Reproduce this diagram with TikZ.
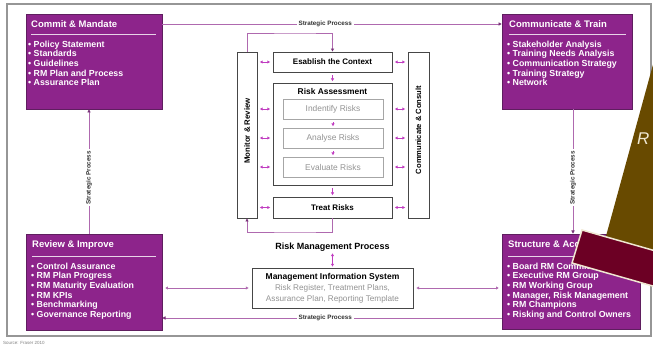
\documentclass[tikz,border=0pt]{standalone}
\usepackage{fontspec}
\setmainfont{Liberation Sans}
\usetikzlibrary{arrows.meta,calc}
\definecolor{boxpurple}{RGB}{141,36,139}
\definecolor{boxedge}{RGB}{95,30,95}
\definecolor{stratline}{RGB}{175,105,175}
\definecolor{stratdark}{RGB}{120,50,120}
\definecolor{magarrow}{RGB}{192,60,192}
\definecolor{darkedge}{RGB}{70,70,70}
\definecolor{framegray}{RGB}{150,150,150}
\definecolor{brownov}{RGB}{104,74,0}
\definecolor{redov}{RGB}{108,0,36}
\definecolor{creamov}{RGB}{240,232,210}
\begin{document}
\begin{tikzpicture}[x=1pt,y=-1pt,
  pbox/.style={draw=boxedge,fill=boxpurple,line width=0.6pt,inner sep=0pt},
  phead/.style={text=white,font=\bfseries\fontsize{9.5}{11}\selectfont,inner sep=0pt,anchor=west},
  plist/.style={text=white,font=\bfseries\fontsize{8.8}{9.7}\selectfont,inner sep=0pt,align=left,anchor=north west},
  hline/.style={draw=white!80!boxpurple,line width=0.8pt},
  cbox/.style={draw=darkedge,fill=white,line width=0.9pt,inner sep=0pt,font=\bfseries\fontsize{8}{10}\selectfont},
  gbox/.style={draw=gray!70,fill=white,line width=0.8pt,inner sep=0pt,text=gray!85,font=\fontsize{8.4}{10}\selectfont},
  strat/.style={draw=stratline,line width=0.9pt},
  endtip/.style={-{Triangle[length=3.2pt,width=3.2pt,color=stratdark]}},
  slabel/.style={fill=white,font=\bfseries\fontsize{6.3}{7}\selectfont,text=black!80,inner sep=2pt},
  dbl/.style={draw=magarrow,line width=0.9pt,{Triangle[length=2.6pt,width=2.8pt]}-{Triangle[length=2.6pt,width=2.8pt]},shorten <=2.5pt,shorten >=2.5pt},
  downtip/.style={draw=magarrow,line width=0.6pt,-{Triangle[length=2.6pt,width=3pt]},shorten <=3pt,shorten >=1.5pt},
  loopline/.style={draw=stratline,line width=0.9pt,-{Triangle[length=3pt,width=3pt,color=stratdark]}},
]
\useasboundingbox (0,0) rectangle (653,347);
\clip (0,0) rectangle (653,347);
\fill[white] (0,0) rectangle (653,347);

% frame
\draw[framegray,line width=1.4pt] (7,4) rectangle (651,336);
\node[anchor=west,inner sep=0pt,text=gray,font=\fontsize{4.5}{5}\selectfont] (src) at (3,343) {Source: Fraser 2010};

% coordinates for strategic lines
\coordinate (sTop) at (0,24);
\coordinate (sBot) at (0,318);
\coordinate (sLeft) at (89,0);
\coordinate (sRight) at (573,0);
\coordinate (fbT) at (300,33);
\coordinate (fbB) at (300,232);

% purple boxes
\node[pbox,minimum width=136pt,minimum height=95pt] (commit) at (94,61.5) {};
\node[phead] (commitH) at (31,24) {Commit \& Mandate};
\draw[hline] (31,34) -- (156,34);
\node[plist] (commitL) at (28,40.5) {• Policy Statement\\• Standards\\• Guidelines\\• RM Plan and Process\\• Assurance Plan};

\node[pbox,minimum width=130pt,minimum height=95pt] (train) at (567,61.5) {};
\node[phead] (trainH) at (509,24) {Communicate \& Train};
\draw[hline] (509,34) -- (626,34);
\node[plist] (trainL) at (507,40.5) {• Stakeholder Analysis\\• Training Needs Analysis\\• Communication Strategy\\• Training Strategy\\• Network};

\node[pbox,minimum width=136pt,minimum height=96pt] (review) at (94,282) {};
\node[phead] (reviewH) at (32,245) {Review \& Improve};
\draw[hline] (32,256) -- (156,256);
\node[plist] (reviewL) at (31,262.5) {• Control Assurance\\• RM Plan Progress\\• RM Maturity Evaluation\\• RM KPIs\\• Benchmarking\\• Governance Reporting};

\node[pbox,minimum width=138pt,minimum height=95pt] (struct) at (571,281.5) {};
\node[phead] (structH) at (508,245) {Structure \& Accountability};
\draw[hline] (508,256) -- (634,256);
\node[plist] (structL) at (507,262.5) {• Board RM Committee\\• Executive RM Group\\• RM Working Group\\• Manager, Risk Management\\• RM Champions\\• Risking and Control Owners};

% strategic process connectors
\draw[strat,endtip] (commit.east |- sTop) -- (train.west |- sTop)
  node[slabel,pos=0.48] (slTop) {Strategic Process};
\draw[strat,endtip] (struct.west |- sBot) -- (review.east |- sBot)
  node[slabel,pos=0.52] (slBot) {Strategic Process};
\draw[strat,endtip] (review.north -| sLeft) -- (commit.south -| sLeft)
  node[slabel,rotate=90,pos=0.45] (slLeft) {Strategic Process};
\draw[strat,endtip] (train.south -| sRight) -- (struct.north -| sRight)
  node[slabel,rotate=90,pos=0.55] (slRight) {Strategic Process};

% centre
\node[cbox,minimum width=20pt,minimum height=166pt] (monitor) at (247,135) {};
\node[rotate=90,inner sep=0pt,font=\bfseries\fontsize{7.8}{9}\selectfont] (monitorT) at (247,131) {Monitor \& Review};
\node[cbox,minimum width=21pt,minimum height=166pt] (consult) at (418.5,135) {};
\node[rotate=90,inner sep=0pt,font=\bfseries\fontsize{7.6}{9}\selectfont] (consultT) at (418.5,130) {Communicate \& Consult};

\node[cbox,minimum width=119pt,minimum height=20pt] (establish) at (332.5,62) {Esablish the Context};
\node[cbox,minimum width=119pt,minimum height=102pt] (assess) at (332.5,134) {};
\node[inner sep=0pt,font=\bfseries\fontsize{8.4}{10}\selectfont] (assessT) at (332.5,92) {Risk Assessment};
\node[gbox,minimum width=100pt,minimum height=20pt] (identify) at (333,109) {Indentify Risks};
\node[gbox,minimum width=100pt,minimum height=20pt] (analyse) at (333,138) {Analyse Risks};
\node[gbox,minimum width=100pt,minimum height=20pt] (evaluate) at (333,167) {Evaluate Risks};
\node[cbox,minimum width=119pt,minimum height=21pt] (treat) at (332.5,207.5) {Treat Risks};

% feedback loop
\draw[loopline] (monitor.north) |- (fbT) -| (establish.north);
\draw[loopline] (treat.south) |- (fbB) -| (monitor.south);

% down arrows
\draw[downtip] (establish.south) -- (assess.north);
\draw[downtip] (identify.south) -- (analyse.north);
\draw[downtip] (analyse.south) -- (evaluate.north);
\draw[downtip] (assess.south) -- (treat.north);

% double arrows left and right
\draw[dbl] (monitor.east |- establish) -- (establish.west);
\draw[dbl] (monitor.east |- identify) -- (assess.west |- identify);
\draw[dbl] (monitor.east |- analyse) -- (assess.west |- analyse);
\draw[dbl] (monitor.east |- evaluate) -- (assess.west |- evaluate);
\draw[dbl] (monitor.east |- treat) -- (treat.west);
\draw[dbl] (establish.east) -- (consult.west |- establish);
\draw[dbl] (assess.east |- identify) -- (consult.west |- identify);
\draw[dbl] (assess.east |- analyse) -- (consult.west |- analyse);
\draw[dbl] (assess.east |- evaluate) -- (consult.west |- evaluate);
\draw[dbl] (treat.east) -- (consult.west |- treat);

% risk management process & MIS
\node[inner sep=1pt,font=\bfseries\fontsize{9}{11}\selectfont] (rmp) at (332.5,247) {Risk Management Process};
\node[draw=darkedge,fill=white,line width=0.9pt,minimum width=161pt,minimum height=40pt,inner sep=0pt,align=center] (mis) at (332.5,288)
  {{\bfseries\fontsize{8.5}{10}\selectfont Management Information System}\\[-1pt]
   {\color{gray!85}\fontsize{8.2}{10}\selectfont Risk Register, Treatment Plans,}\\[-1pt]
   {\color{gray!85}\fontsize{8.2}{10}\selectfont Assurance Plan, Reporting Template}};
\draw[dbl,shorten <=1pt,shorten >=1pt] (rmp.south) -- (mis.north);
\draw[dbl,draw=stratline,shorten <=3pt,shorten >=3pt] (review.east |- mis) -- (mis.west);
\draw[dbl,draw=stratline,shorten <=3pt,shorten >=3pt] (mis.east) -- (struct.west |- mis);

% overlay shapes (top right)
\fill[brownov] (657,50) -- (600,258) -- (700,290) -- (700,50) -- cycle;
\node[anchor=west,inner sep=0pt,text=creamov,font=\itshape\fontsize{17}{20}\selectfont] (rtext) at (637,139) {R};
\filldraw[fill=redov,draw=creamov,line width=1.5pt] (582,230) -- (702,264.2) -- (692,297.2) -- (572,263) -- cycle;
\end{tikzpicture}
\end{document}
